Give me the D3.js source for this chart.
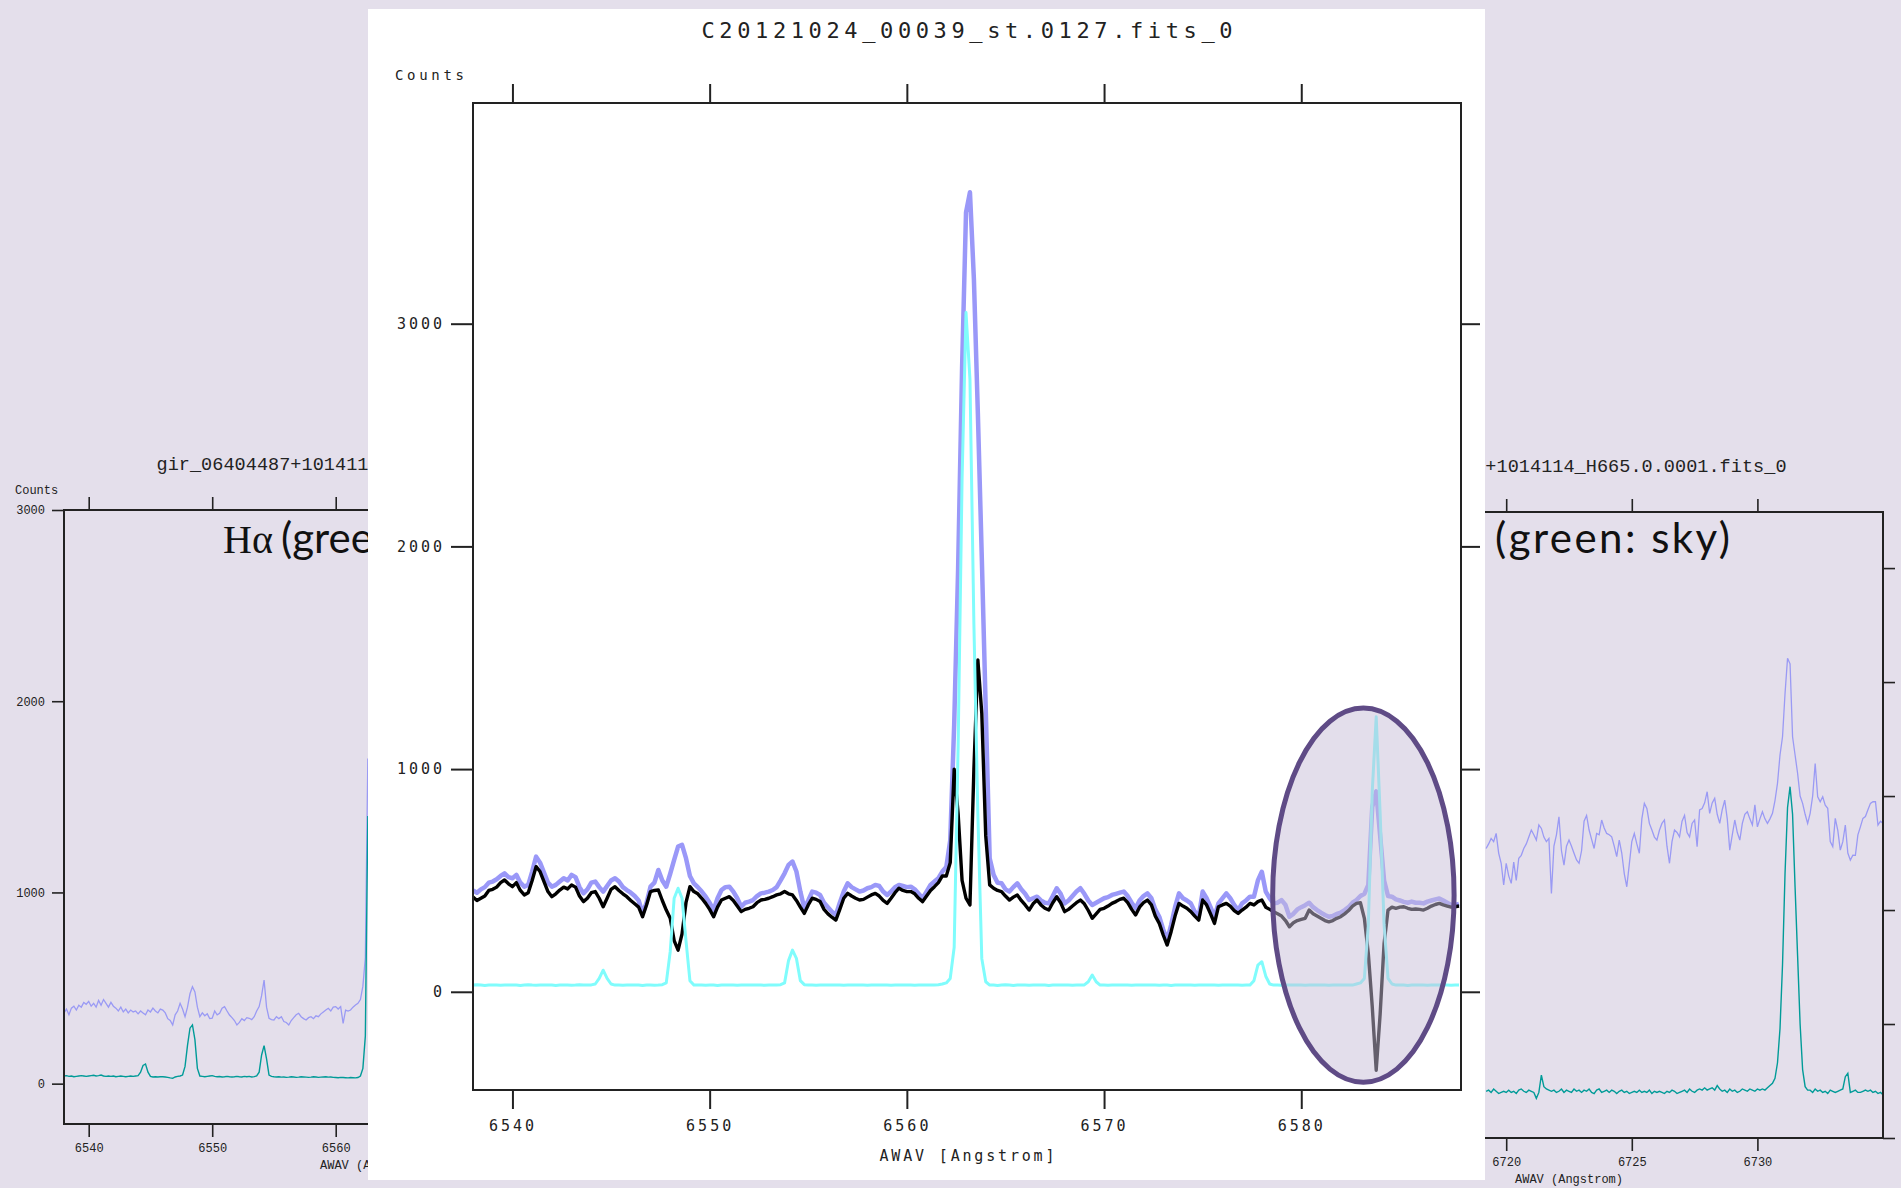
<!DOCTYPE html>
<html>
<head>
<meta charset="utf-8">
<script src="https://cdn.jsdelivr.net/npm/d3@7"></script>
<style>
  html, body { margin: 0; padding: 0; background: #e4dfeb; }
  svg { display: block; }
</style>
</head>
<body>
<div id="chart"></div>
<script>
// ---- data ----

// main spectrum (C20121024_00039_st.0127.fits_0), 0.2 A grid starting at 6538.0
const mainStart = 6538.0, mainStep = 0.2;
const mainObj = [
  455, 445, 460, 470, 490, 495, 505, 520, 532, 515,
  510, 525, 490, 472, 480, 540, 607, 580, 535, 490,
  472, 480, 495, 510, 500, 525, 515, 470, 442, 460,
  490, 495, 470, 450, 475, 500, 510, 495, 470, 457,
  445, 430, 410, 352, 400, 472, 490, 547, 500, 472,
  530, 592, 652, 660, 600, 520, 487, 470, 450, 427,
  400, 367, 420, 457, 470, 472, 450, 420, 382, 400,
  405, 412, 430, 442, 445, 450, 457, 470, 500, 532,
  570, 585, 540, 450, 375, 410, 450, 445, 435, 400,
  380, 360, 345, 400, 450, 487, 470, 460, 450, 455,
  465, 470, 480, 475, 450, 435, 450, 470, 480, 475,
  470, 472, 460, 440, 420, 450, 480, 495, 510, 540,
  560, 680, 1200, 1900, 2800, 3500, 3590, 3200, 2600, 1950,
  1270, 600, 525, 490, 487, 460, 450, 470, 487, 460,
  440, 412, 420, 427, 410, 400, 397, 430, 465, 440,
  397, 410, 430, 450, 465, 440, 410, 390, 400, 410,
  420, 425, 435, 440, 445, 450, 430, 400, 375, 410,
  430, 442, 420, 370, 337, 280, 232, 300, 380, 442,
  420, 410, 397, 360, 337, 450, 420, 380, 337, 397,
  420, 442, 420, 390, 367, 397, 410, 427, 427, 500,
  539, 450, 420, 397, 400, 412, 390, 337, 350, 370,
  380, 389, 400, 380, 367, 355, 345, 337, 340, 350,
  355, 367, 380, 400, 412, 430, 440, 480, 830, 900,
  700, 500, 430, 427, 415, 410, 404, 400, 405, 400,
  400, 397, 405, 410, 415, 419, 410, 400, 390, 389,
  395
];
const mainNet = [
  425, 410, 420, 430, 455, 460, 470, 490, 502, 485,
  472, 490, 455, 435, 445, 500, 562, 540, 495, 450,
  427, 440, 457, 470, 462, 480, 470, 430, 405, 420,
  445, 450, 420, 382, 420, 460, 472, 455, 440, 427,
  410, 395, 380, 337, 390, 450, 455, 457, 410, 367,
  330, 230, 187, 260, 400, 472, 450, 440, 420, 397,
  370, 337, 380, 412, 420, 427, 410, 385, 360, 370,
  375, 382, 400, 412, 415, 420, 427, 435, 440, 450,
  440, 435, 410, 380, 352, 390, 420, 415, 405, 370,
  350, 335, 322, 370, 420, 442, 430, 420, 412, 415,
  425, 435, 442, 430, 410, 397, 420, 445, 465, 455,
  450, 450, 440, 420, 405, 430, 455, 472, 490, 520,
  520, 580, 1000, 800, 500, 420, 390, 1000, 1490, 1250,
  700, 480, 465, 455, 450, 430, 412, 425, 435, 410,
  390, 367, 395, 412, 390, 375, 367, 400, 427, 400,
  360, 370, 385, 400, 412, 395, 365, 330, 350, 370,
  375, 385, 397, 405, 415, 420, 400, 370, 345, 380,
  400, 412, 390, 340, 307, 255, 210, 270, 340, 397,
  385, 375, 360, 340, 322, 412, 390, 350, 307, 382,
  390, 397, 385, 365, 352, 367, 380, 397, 390, 405,
  412, 380, 370, 359, 350, 340, 320, 292, 310, 320,
  325, 330, 367, 350, 340, 330, 320, 314, 320, 330,
  337, 350, 365, 385, 397, 400, 330, 172, -67, -352,
  -100, 217, 367, 380, 375, 380, 382, 375, 370, 372,
  370, 367, 375, 385, 392, 397, 390, 385, 380, 382,
  385
];
const mainSky = [
  30, 32, 30, 28, 30, 31, 30, 29, 30, 30,
  31, 30, 28, 30, 32, 30, 29, 30, 31, 30,
  30, 28, 30, 31, 30, 29, 30, 32, 30, 30,
  31, 35, 60, 97, 60, 35, 30, 30, 29, 30,
  30, 31, 30, 28, 30, 30, 29, 30, 32, 40,
  180, 420, 465, 420, 230, 50, 30, 31, 30, 29,
  30, 30, 28, 30, 31, 30, 30, 29, 30, 30,
  30, 31, 30, 30, 29, 30, 30, 31, 32, 40,
  140, 187, 150, 50, 32, 30, 30, 29, 30, 30,
  30, 31, 30, 30, 29, 30, 31, 30, 30, 30,
  29, 30, 30, 31, 30, 30, 29, 30, 30, 31,
  30, 30, 29, 30, 30, 31, 30, 30, 32, 35,
  40, 60, 200, 1100, 2300, 3050, 2750, 1650, 800, 150,
  45, 30, 30, 28, 30, 32, 30, 28, 30, 30,
  30, 29, 30, 31, 30, 30, 28, 30, 31, 30,
  30, 30, 29, 30, 30, 31, 45, 75, 45, 30,
  30, 29, 30, 30, 31, 30, 30, 29, 30, 30,
  30, 31, 30, 30, 29, 30, 30, 28, 30, 30,
  31, 30, 30, 29, 30, 30, 31, 30, 30, 29,
  30, 30, 31, 30, 30, 29, 30, 30, 50, 120,
  135, 70, 35, 30, 30, 29, 30, 30, 31, 30,
  30, 29, 30, 30, 31, 30, 30, 29, 30, 30,
  30, 30, 30, 30, 35, 40, 60, 300, 900, 1235,
  800, 300, 60, 35, 30, 30, 30, 28, 30, 30,
  30, 30, 29, 30, 30, 31, 30, 30, 29, 30,
  30
];
const mainXTicks = [6540, 6550, 6560, 6570, 6580];
const mainYTicks = [0, 1000, 2000, 3000];
// highlighted sky residual (ellipse), in data units
const ellipseNote = { w: 6583.15, v: 434, dw: 4.6, dv: 840 };

// left background spectrum (H alpha window), 0.2 A grid from 6538.0
const leftStart = 6538.0, leftStep = 0.2;
const leftObj = [
  370, 390, 360, 395, 405, 385, 410, 400, 425, 415,
  430, 405, 420, 400, 435, 410, 440, 420, 400, 425,
  405, 395, 380, 400, 375, 390, 370, 385, 375, 380,
  365, 380, 370, 360, 385, 375, 395, 380, 370, 390,
  385, 370, 340, 330, 307, 360, 380, 420, 390, 350,
  400, 470, 507, 480, 400, 350, 370, 355, 365, 340,
  342, 380, 360, 368, 395, 403, 380, 359, 345, 330,
  307, 320, 340, 330, 345, 342, 335, 350, 380, 403,
  460, 542, 400, 342, 335, 333, 350, 340, 350, 325,
  320, 307, 330, 345, 360, 368, 350, 340, 333, 345,
  350, 340, 355, 350, 365, 375, 385, 394, 380, 400,
  403, 390, 403, 315, 385, 380, 385, 400, 411, 420,
  440, 510, 660, 1700
];
const leftSky = [
  40, 42, 38, 40, 36, 38, 40, 42, 40, 38,
  40, 42, 44, 40, 42, 45, 40, 38, 40, 38,
  40, 36, 38, 40, 38, 36, 38, 40, 38, 40,
  42, 60, 95, 103, 60, 38, 35, 36, 35, 36,
  36, 35, 33, 30, 28, 35, 38, 40, 45, 90,
  200, 290, 307, 230, 80, 40, 38, 36, 38, 40,
  42, 38, 36, 37, 35, 36, 38, 36, 35, 36,
  38, 36, 35, 38, 36, 38, 35, 37, 40, 60,
  150, 199, 130, 45, 38, 36, 35, 36, 34, 35,
  33, 34, 36, 35, 33, 34, 36, 35, 34, 33,
  34, 36, 35, 33, 34, 35, 36, 34, 35, 33,
  32, 31, 33, 32, 31, 30, 32, 31, 30, 32,
  40, 80, 250, 1400
];
const leftXTicks = [6540, 6550, 6560, 6570, 6580];
const leftYTicks = [0, 1000, 2000, 3000];

// right background spectrum ([SII] window), 0.1 A grid from 6719.2
const rightStart = 6719.2, rightStep = 0.1;
const rightObj = [
  1270, 1290, 1314, 1300, 1336, 1250, 1205, 1110, 1205,
  1150, 1117, 1210, 1130, 1227, 1240, 1270, 1290, 1320, 1351,
  1330, 1307, 1373, 1358, 1320, 1300, 1314, 1073, 1280, 1330,
  1409, 1260, 1197, 1280, 1307, 1280, 1249, 1220, 1205, 1260,
  1390, 1415, 1351, 1310, 1270, 1336, 1330, 1395, 1360, 1336,
  1330, 1321, 1280, 1234, 1307, 1250, 1160, 1102, 1200, 1300,
  1336, 1290, 1249, 1400, 1468, 1446, 1380, 1351, 1320, 1307,
  1350, 1380, 1395, 1280, 1205, 1300, 1351, 1340, 1321, 1390,
  1415, 1340, 1321, 1380, 1395, 1278, 1439, 1445, 1470, 1519,
  1424, 1470, 1490, 1420, 1380, 1440, 1482, 1400, 1263, 1330,
  1395, 1340, 1307, 1380, 1420, 1431, 1400, 1373, 1461, 1365,
  1400, 1431, 1400, 1380, 1400, 1424, 1480, 1556, 1680, 1760,
  1950, 2104, 2080, 1760, 1680, 1600, 1500, 1468, 1420, 1380,
  1424, 1500, 1643, 1497, 1475, 1497, 1460, 1446, 1300, 1278,
  1402, 1350, 1263, 1300, 1373, 1250, 1219, 1241, 1240, 1330,
  1365, 1402, 1410, 1440, 1468, 1475, 1475, 1373, 1390, 1380
];
const rightSky = [
  205, 210, 200, 215, 205, 195, 200, 205, 200,
  210, 200, 205, 195, 210, 215, 205, 200, 210, 205,
  200, 174, 200, 276, 225, 215, 210, 205, 210, 200,
  205, 215, 200, 210, 205, 200, 215, 205, 210, 200,
  210, 205, 215, 200, 195, 210, 215, 200, 205, 210,
  200, 210, 205, 195, 205, 210, 200, 205, 195, 200,
  205, 200, 210, 200, 205, 200, 210, 195, 205, 200,
  205, 200, 195, 205, 200, 210, 205, 195, 200, 205,
  210, 200, 215, 205, 200, 210, 215, 210, 220, 210,
  215, 220, 210, 230, 215, 205, 210, 200, 215, 205,
  210, 200, 205, 215, 210, 205, 215, 210, 205, 215,
  210, 215, 210, 220, 230, 240, 262, 330, 480, 760,
  1160, 1450, 1541, 1420, 1100, 800, 500, 300, 225, 210,
  210, 200, 215, 205, 210, 200, 205, 195, 210, 205,
  200, 205, 210, 215, 269, 284, 200, 205, 210, 200,
  200, 205, 210, 205, 210, 200, 205, 195, 200, 190
];
const rightXTicks = [6715, 6720, 6725, 6730];
const rightYTicks = [0, 500, 1000, 1500, 2000, 2500];

// ---- drawing ----
const W = 1901, H = 1188;
const toPoints = (start, step, vals) => vals.map((v, i) => ({ w: start + step * i, v: v }));

const svg = d3.select("#chart").append("svg")
    .attr("width", W)
    .attr("height", H)
    .attr("viewBox", [0, 0, W, H]);

svg.append("rect").attr("width", W).attr("height", H).attr("fill", "#e4dfeb");

const defs = svg.append("defs");

// small helper for the two half-hidden plots behind the slide
function sidePlot(cfg) {
  const g = svg.append("g");
  const x = d3.scaleLinear(cfg.xDomain, [cfg.left, cfg.right]);
  const y = d3.scaleLinear(cfg.yDomain, [cfg.bottom, cfg.top]);

  defs.append("clipPath").attr("id", cfg.id)
    .append("rect")
    .attr("x", cfg.left).attr("y", cfg.top)
    .attr("width", cfg.right - cfg.left).attr("height", cfg.bottom - cfg.top);

  const line = d3.line().x(d => x(d.w)).y(d => y(d.v));
  const lines = g.append("g").attr("clip-path", `url(#${cfg.id})`);
  lines.append("path")
      .attr("fill", "none").attr("stroke", "#9a9af4").attr("stroke-width", 1.3)
      .attr("d", line(cfg.obj));
  lines.append("path")
      .attr("fill", "none").attr("stroke", "#009b98").attr("stroke-width", 1.4)
      .attr("d", line(cfg.sky));

  const tickStyle = a => a
      .call(s => s.select(".domain").remove())
      .call(s => s.selectAll(".tick line").attr("stroke", "#222").attr("stroke-width", 1.6))
      .call(s => s.selectAll(".tick text")
          .attr("font-family", "'Liberation Mono', 'DejaVu Sans Mono', monospace")
          .attr("font-size", 12).attr("fill", "#222"));

  g.append("g").attr("transform", `translate(0,${cfg.top})`)
      .call(d3.axisTop(x).tickValues(cfg.xTicks).tickSize(13).tickFormat(""))
      .call(tickStyle);
  g.append("g").attr("transform", `translate(0,${cfg.bottom})`)
      .call(d3.axisBottom(x).tickValues(cfg.xTicks).tickSize(13).tickPadding(6).tickFormat(d3.format("d")))
      .call(tickStyle);
  g.append("g").attr("transform", `translate(${cfg.left},0)`)
      .call(d3.axisLeft(y).tickValues(cfg.yTicks).tickSize(12).tickPadding(7).tickFormat(d3.format("d")))
      .call(tickStyle);
  g.append("g").attr("transform", `translate(${cfg.right},0)`)
      .call(d3.axisRight(y).tickValues(cfg.yTicks).tickSize(12).tickFormat(""))
      .call(tickStyle);

  g.append("rect")
      .attr("x", cfg.left).attr("y", cfg.top)
      .attr("width", cfg.right - cfg.left).attr("height", cfg.bottom - cfg.top)
      .attr("fill", "none").attr("stroke", "#222").attr("stroke-width", 2);

  const mono = "'Liberation Mono', 'DejaVu Sans Mono', monospace";
  const cx = (cfg.left + cfg.right) / 2;
  g.append("text").attr("x", cx).attr("y", cfg.top - 40)
      .attr("text-anchor", "middle").attr("font-family", mono).attr("font-size", 18.5)
      .attr("textLength", 435).attr("lengthAdjust", "spacing")
      .attr("fill", "#222").text(cfg.title);
  g.append("text").attr("x", cfg.left - 49).attr("y", cfg.top - 16)
      .attr("font-family", mono).attr("font-size", 12).attr("fill", "#222").text("Counts");
  g.append("text").attr("x", cx).attr("y", cfg.bottom + 45)
      .attr("text-anchor", "middle").attr("font-family", mono).attr("font-size", 12)
      .attr("fill", "#222").text("AWAV (Angstrom)");
}

sidePlot({
  id: "clipLeft", left: 64, right: 684, top: 510, bottom: 1124,
  xDomain: [6538, 6588.2], yDomain: [-211, 3000],
  xTicks: leftXTicks, yTicks: leftYTicks,
  obj: toPoints(leftStart, leftStep, leftObj), sky: toPoints(leftStart, leftStep, leftSky),
  title: "gir_06404487+1014114_H665.0.0001.fits_0"
});

sidePlot({
  id: "clipRight", left: 1255, right: 1883, top: 512, bottom: 1138,
  xDomain: [6710, 6735], yDomain: [0, 2746],
  xTicks: rightXTicks, yTicks: rightYTicks,
  obj: toPoints(rightStart, rightStep, rightObj), sky: toPoints(rightStart, rightStep, rightSky),
  title: "gir_06404487+1014114_H665.0.0001.fits_0"
});

// slide captions (cut off by the white panel)
const sans = "Lato, 'Open Sans', 'DejaVu Sans', sans-serif";
const capLeft = svg.append("text").attr("y", 553).attr("font-size", 42).attr("fill", "#111");
capLeft.append("tspan").attr("x", 223).attr("font-family", "'Liberation Serif', 'DejaVu Serif', serif")
    .attr("font-size", 40).text("H\u03b1");
capLeft.append("tspan").attr("x", 281).attr("font-family", sans).text("(gree");
svg.append("text").attr("x", 1495).attr("y", 553)
    .attr("font-family", sans).attr("font-size", 42).attr("fill", "#111")
    .attr("textLength", 235).attr("lengthAdjust", "spacing")
    .text("(green: sky)");

// white panel with the main plot
svg.append("rect")
    .attr("x", 368).attr("y", 9).attr("width", 1117).attr("height", 1171)
    .attr("fill", "#ffffff");

const margin = { top: 103, right: 1461, bottom: 1090, left: 473 };
const x = d3.scaleLinear([6538, 6588.1], [margin.left, margin.right]);
const y = d3.scaleLinear([-441, 3991], [margin.bottom, margin.top]);

defs.append("clipPath").attr("id", "clipMain")
  .append("rect")
  .attr("x", margin.left).attr("y", margin.top)
  .attr("width", margin.right - margin.left).attr("height", margin.bottom - margin.top);

const specLine = d3.line().x(d => x(d.w)).y(d => y(d.v));
const plot = svg.append("g").attr("clip-path", "url(#clipMain)");

plot.append("path")
    .attr("fill", "none").attr("stroke", "#9a98f8").attr("stroke-width", 4.5)
    .attr("stroke-linejoin", "round")
    .attr("d", specLine(toPoints(mainStart, mainStep, mainObj)));
plot.append("path")
    .attr("fill", "none").attr("stroke", "#000").attr("stroke-width", 3.4)
    .attr("stroke-linejoin", "round")
    .attr("d", specLine(toPoints(mainStart, mainStep, mainNet)));
plot.append("path")
    .attr("fill", "none").attr("stroke", "#80fcfc").attr("stroke-width", 3)
    .attr("stroke-linejoin", "round")
    .attr("d", specLine(toPoints(mainStart, mainStep, mainSky)));

// ellipse marking the sky-line residual
plot.append("ellipse")
    .attr("cx", x(ellipseNote.w))
    .attr("cy", y(ellipseNote.v))
    .attr("rx", x(ellipseNote.w + ellipseNote.dw) - x(ellipseNote.w))
    .attr("ry", y(ellipseNote.v) - y(ellipseNote.v + ellipseNote.dv))
    .attr("fill", "rgb(200,190,215)").attr("fill-opacity", 0.5)
    .attr("stroke", "#5f4b86").attr("stroke-width", 5);

const pix = "'DejaVu Sans Mono', 'Liberation Mono', monospace";
const mainTicks = a => a
    .call(s => s.select(".domain").remove())
    .call(s => s.selectAll(".tick line").attr("stroke", "#222").attr("stroke-width", 2))
    .call(s => s.selectAll(".tick text")
        .attr("font-family", pix).attr("font-size", 15).attr("fill", "#222")
        .attr("letter-spacing", "3px"));

svg.append("g").attr("transform", `translate(0,${margin.top})`)
    .call(d3.axisTop(x).tickValues(mainXTicks).tickSize(19).tickFormat(""))
    .call(mainTicks);
svg.append("g").attr("transform", `translate(0,${margin.bottom})`)
    .call(d3.axisBottom(x).tickValues(mainXTicks).tickSize(19).tickPadding(11).tickFormat(d3.format("d")))
    .call(mainTicks);
svg.append("g").attr("transform", `translate(${margin.left},0)`)
    .call(d3.axisLeft(y).tickValues(mainYTicks).tickSize(22).tickPadding(6).tickFormat(d3.format("d")))
    .call(mainTicks);
svg.append("g").attr("transform", `translate(${margin.right},0)`)
    .call(d3.axisRight(y).tickValues(mainYTicks).tickSize(19).tickFormat(""))
    .call(mainTicks);

svg.append("rect")
    .attr("x", margin.left).attr("y", margin.top)
    .attr("width", margin.right - margin.left).attr("height", margin.bottom - margin.top)
    .attr("fill", "none").attr("stroke", "#222").attr("stroke-width", 2);

svg.append("text").attr("x", (margin.left + margin.right) / 2).attr("y", 38)
    .attr("text-anchor", "middle").attr("font-family", pix).attr("font-size", 22).attr("fill", "#222")
    .attr("textLength", 531).attr("lengthAdjust", "spacing")
    .text("C20121024_00039_st.0127.fits_0");
svg.append("text").attr("x", 395).attr("y", 80)
    .attr("font-family", pix).attr("font-size", 14).attr("fill", "#222")
    .attr("textLength", 69).attr("lengthAdjust", "spacing")
    .text("Counts");
svg.append("text").attr("x", (margin.left + margin.right) / 2).attr("y", 1161)
    .attr("text-anchor", "middle").attr("font-family", pix).attr("font-size", 15).attr("fill", "#222")
    .attr("textLength", 175).attr("lengthAdjust", "spacing")
    .text("AWAV [Angstrom]");
</script>
</body>
</html>
